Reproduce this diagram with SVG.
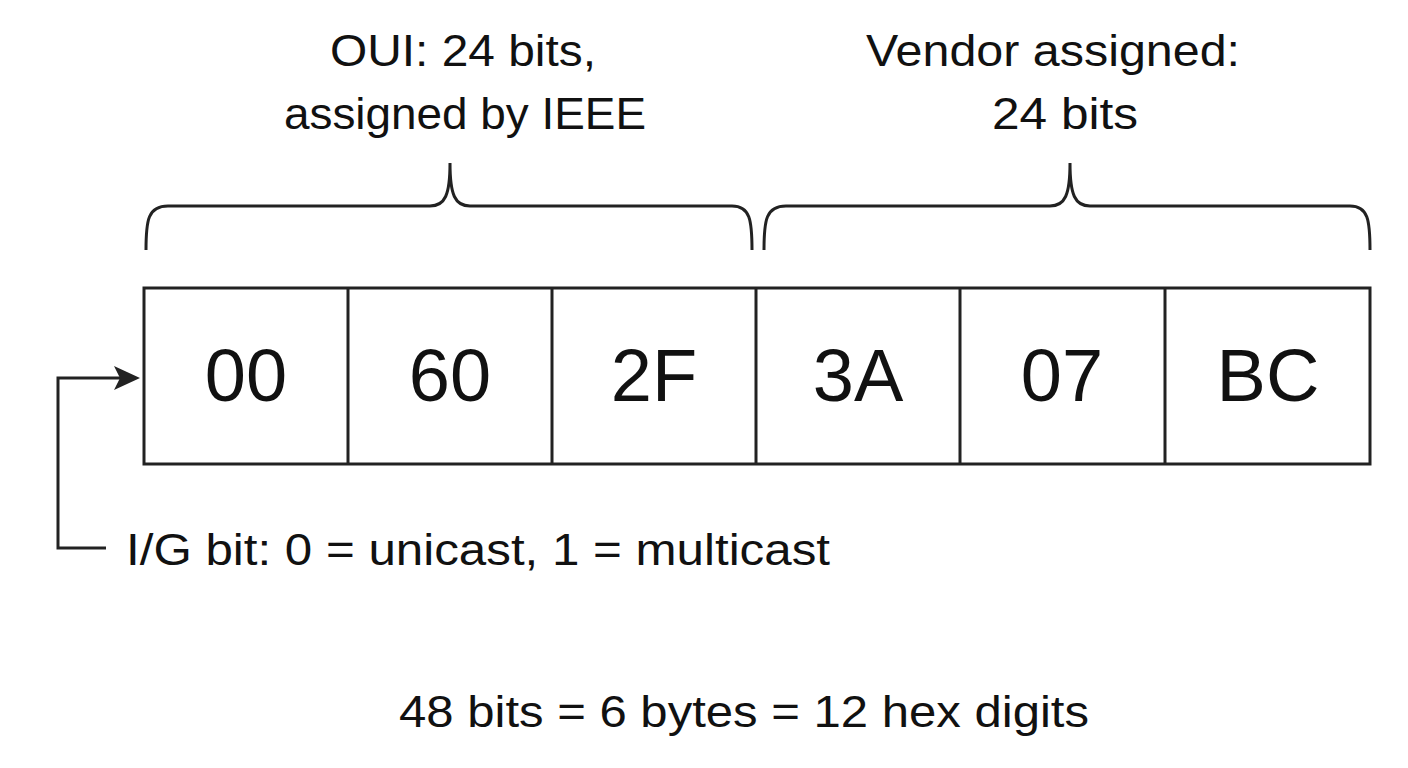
<svg xmlns="http://www.w3.org/2000/svg" width="1408" height="768" viewBox="0 0 1408 768">
<defs>
<style>
.t{font-family:"Liberation Sans",Arial,sans-serif;fill:#111}
.s{stroke:#222;stroke-width:3;fill:none}
</style>
<marker id="ah" markerWidth="26" markerHeight="24" refX="26" refY="12" orient="auto" markerUnits="userSpaceOnUse" viewBox="0 0 26 24"><path d="M0,0 L26,12 L0,24 L6,12 z" fill="#222"/></marker>
</defs>
<rect width="1408" height="768" fill="#fff"/>
<g id="labels">
<text class="t" x="330" y="66" font-size="45" textLength="266" lengthAdjust="spacingAndGlyphs">OUI: 24 bits,</text>
<text class="t" x="284" y="129" font-size="45" textLength="362" lengthAdjust="spacingAndGlyphs">assigned by IEEE</text>
<text class="t" x="866" y="66" font-size="45" textLength="374" lengthAdjust="spacingAndGlyphs">Vendor assigned:</text>
<text class="t" x="992" y="129" font-size="45" textLength="146" lengthAdjust="spacingAndGlyphs">24 bits</text>
</g>
<g id="braces">
<path class="s" d="M146,250 C146,220 148,206 168,206 L430,206 C445,206 450,195 450,163 C450,195 455,206 470,206 L732,206 C750,206 752,220 752,250"/>
<path class="s" d="M764,250 C764,220 766,206 786,206 L1050,206 C1065,206 1070,195 1070,163 C1070,195 1075,206 1090,206 L1350,206 C1368,206 1370,220 1370,250"/>
</g>
<g id="bytes">
<rect class="s" x="144" y="288" width="1226" height="176"/>
<path class="s" d="M348,288V464M552,288V464M756,288V464M960,288V464M1165,288V464"/>
<g font-size="74" text-anchor="middle" class="t">
<text x="246" y="401">00</text>
<text x="450" y="401">60</text>
<text x="654" y="401">2F</text>
<text x="858" y="401">3A</text>
<text x="1062" y="401">07</text>
<text x="1268" y="401">BC</text>
</g>
</g>
<g id="connectors">
<path class="s" d="M106,548 H58 V378 H120"/>
<path d="M114,366 L140,378 L114,390 L120,378 z" fill="#222"/>
</g>
<g id="notes">
<text class="t" x="126" y="565" font-size="44" textLength="704" lengthAdjust="spacingAndGlyphs">I/G bit: 0 = unicast, 1 = multicast</text>
<text class="t" x="399" y="727" font-size="44" textLength="690" lengthAdjust="spacingAndGlyphs">48 bits = 6 bytes = 12 hex digits</text>
</g>
</svg>
